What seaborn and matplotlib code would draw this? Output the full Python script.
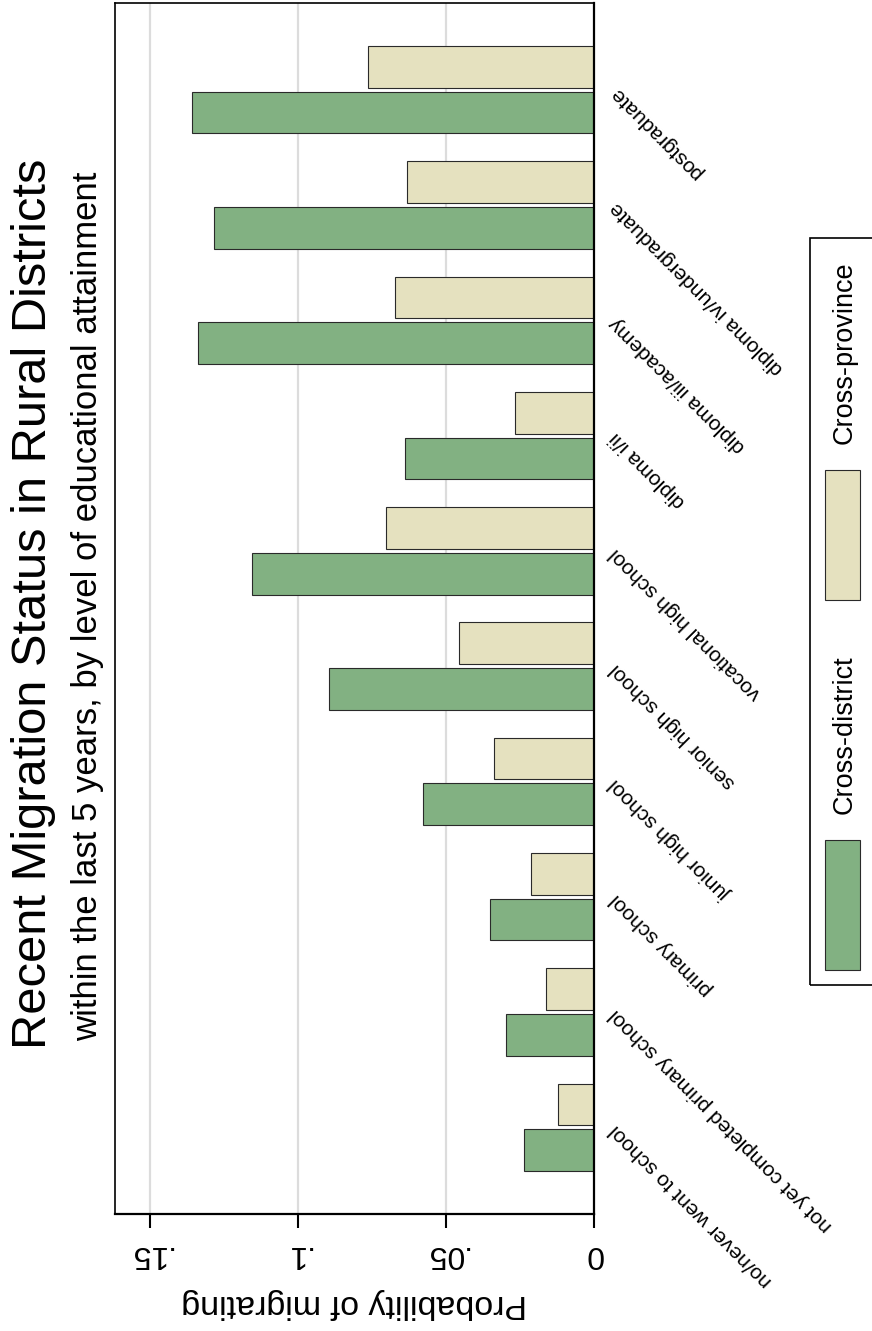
import matplotlib
matplotlib.use('Agg')
import matplotlib.pyplot as plt
import seaborn as sns
import pandas as pd
from matplotlib.patches import Rectangle

# data (probability of migrating)
education = ['no/never went to school', 'not yet completed primary school', 'primary school',
             'junior high school', 'senior high school', 'vocational high school',
             'diploma i/ii', 'diploma iii/academy', 'diploma iv/undergraduate', 'postgraduate']
cross_district = [0.0234, 0.0296, 0.0350, 0.0577, 0.0895, 0.1154, 0.0639, 0.1338, 0.1283, 0.1357]
cross_province = [0.0119, 0.0162, 0.0212, 0.0336, 0.0454, 0.0701, 0.0266, 0.0671, 0.0630, 0.0762]
series = ['Cross-district', 'Cross-province']
tick_vals = [0, 0.05, 0.1, 0.15]
tick_labels = ['0', '.05', '.1', '.15']

green = '#82b182'
beige = '#e5e1bf'

W, H = 872, 1331
def fx(x):
    return x / W
def fy(y):
    return 1 - y / H

df = pd.DataFrame({'edu': education * 2,
                   'type': [series[0]] * 10 + [series[1]] * 10,
                   'prob': cross_district + cross_province})

sns.set_style('white')
plt.rcParams['font.family'] = ['Liberation Sans', 'DejaVu Sans']
plt.rcParams['text.color'] = 'black'
plt.rcParams['axes.labelcolor'] = 'black'
plt.rcParams['xtick.color'] = 'black'
plt.rcParams['ytick.color'] = 'black'

fig = plt.figure(figsize=(8.72, 13.31), dpi=100)
ax = fig.add_axes([fx(114.5), fy(1214), fx(593.5) - fx(114.5), fy(3) - fy(1214)])

for v in tick_vals[1:]:
    ax.axvline(v, color='#dcdcdc', lw=1.6, zorder=0)

# whole chart is drawn turned on its side, so bars run leftwards from 0
sns.barplot(data=df, x='prob', y='edu', hue='type', order=education[::-1],
            hue_order=[series[1], series[0]], palette={series[0]: green, series[1]: beige},
            saturation=1, width=0.792, gap=0.087, edgecolor='#2a2a2a', linewidth=0.8,
            errorbar=None, legend=False, ax=ax, zorder=2)

ax.set_xlim(0.162, 0)
ax.set_ylim(9.752, -0.752)
ax.set_xticks(tick_vals)
ax.set_xticklabels(tick_labels, rotation=180, fontsize=23)
ax.tick_params(axis='x', bottom=True, direction='out', length=10, width=1.5, pad=8, colors='black')
ax.set_xlabel('Probability of migrating', fontsize=24.5, rotation=180, labelpad=14)
ax.set_ylabel('')

ax.yaxis.tick_right()
ax.tick_params(axis='y', length=0, pad=14, labelsize=15)
for lab in ax.get_yticklabels():
    lab.set_rotation(135)
    lab.set_rotation_mode('anchor')
    lab.set_ha('right')
    lab.set_va('center')

for side in ['left', 'top']:
    ax.spines[side].set_linewidth(1.2)
for side in ['right', 'bottom']:
    ax.spines[side].set_linewidth(1.6)
for sp in ax.spines.values():
    sp.set_color('black')
    sp.set_visible(True)

fig.text(fx(46.5), fy(604), 'Recent Migration Status in Rural Districts', rotation=90,
         rotation_mode='anchor', ha='center', va='baseline', fontsize=35.2)
fig.text(fx(97.5), fy(606), 'within the last 5 years, by level of educational attainment',
         rotation=90, rotation_mode='anchor', ha='center', va='baseline', fontsize=25)

# legend box, turned like the rest
fig.add_artist(Rectangle((fx(810), fy(985)), fx(880) - fx(810), fy(238) - fy(985),
                         transform=fig.transFigure, fill=False, ec='black', lw=1.2))
keys = [(series[0], green, 840, 970, 735), (series[1], beige, 470, 600, 353)]
for name, col, y0, y1, ty in keys:
    fig.add_artist(Rectangle((fx(825), fy(y1)), fx(860) - fx(825), fy(y0) - fy(y1),
                             transform=fig.transFigure, fc=col, ec='#2a2a2a', lw=0.8))
    fig.text(fx(852), fy(ty), name, rotation=90, rotation_mode='anchor',
             ha='center', va='baseline', fontsize=19.5)

fig.savefig('out.png', dpi=100)
